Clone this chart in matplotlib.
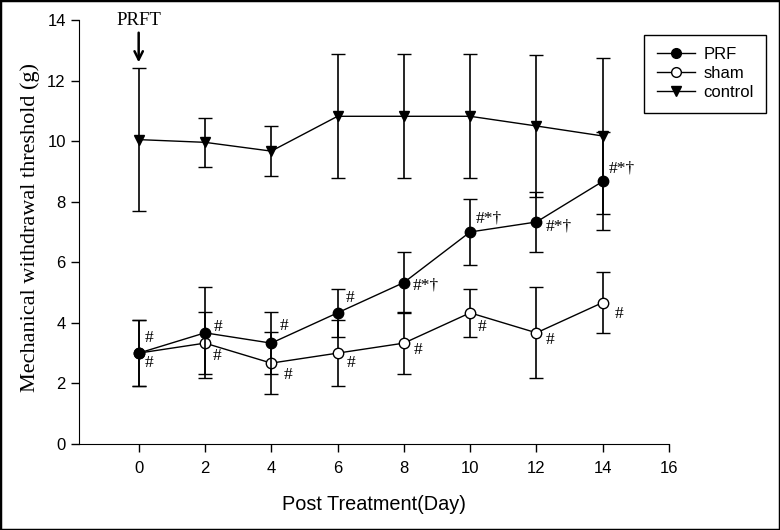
import numpy as np
import matplotlib
matplotlib.use("Agg")
import matplotlib.pyplot as plt
from matplotlib.patches import Rectangle
from matplotlib.lines import Line2D

# days after treatment
days = [0, 2, 4, 6, 8, 10, 12, 14]

# mechanical withdrawal threshold (g), mean and error
prf_mean = [3.0, 3.67, 3.33, 4.33, 5.33, 7.0, 7.33, 8.67]
prf_err = [1.1, 1.5, 1.03, 0.8, 1.0, 1.09, 1.0, 1.62]
sham_mean = [3.0, 3.33, 2.67, 3.0, 3.33, 4.33, 3.67, 4.67]
sham_err = [1.1, 1.03, 1.03, 1.1, 1.02, 0.8, 1.5, 1.02]
control_mean = [10.05, 9.96, 9.67, 10.82, 10.82, 10.82, 10.5, 10.17]
control_err = [2.35, 0.82, 0.82, 2.05, 2.05, 2.05, 2.34, 2.56]

# significance marks
prf_marks = ["#", "#", "#", "#", "#*\u2020", "#*\u2020", "#*\u2020", "#*\u2020"]
sham_marks = ["#"] * 8

SERIF = ["Liberation Serif", "DejaVu Serif"]
SANS = ["Liberation Sans", "DejaVu Sans"]

plt.rcParams["font.family"] = SANS
plt.rcParams["font.size"] = 12

fig = plt.figure(figsize=(7.8, 5.3), dpi=100)
ax = fig.add_axes([0.1013, 0.1623, 0.7564, 0.8])

common = dict(color="black", lw=1.0, capsize=4.8, elinewidth=1.2, capthick=1.2,
              markersize=7.5, markeredgecolor="black", markeredgewidth=1.0)
ax.errorbar(days, control_mean, yerr=control_err, fmt="-v",
            markerfacecolor="black", zorder=3, **common)
ax.errorbar(days, sham_mean, yerr=sham_err, fmt="-o",
            markerfacecolor="white", zorder=4, **common)
ax.errorbar(days, prf_mean, yerr=prf_err, fmt="-o",
            markerfacecolor="black", zorder=5, **common)

# label offsets in pixels (dx, dy, horizontal alignment)
prf_off = [(10, 15, "center"), (13, 6, "center"), (13, 17, "center"),
           (13, 15, "center"), (9, -3, "left"), (6, 13, "left"),
           (9, -5, "left"), (6, 13, "left")]
sham_off = [(10, -10), (12, -13), (17, -12), (14, -10),
            (14, -7), (12, -14), (14, -7), (16, -11)]
px = 0.72
for d, m, lab, (dx, dy, ha) in zip(days, prf_mean, prf_marks, prf_off):
    ax.annotate(lab, (d, m), xytext=(dx * px, dy * px), textcoords="offset points",
                ha=ha, va="center", fontsize=12.5, family=SERIF)
for d, m, lab, (dx, dy) in zip(days, sham_mean, sham_marks, sham_off):
    ax.annotate(lab, (d, m), xytext=(dx * px, dy * px), textcoords="offset points",
                ha="center", va="center", fontsize=12.5, family=SERIF)

# treatment marker
ax.text(0, 13.97, "PRFT", ha="center", va="center", fontsize=13.5,
        family=SERIF, clip_on=False)
ax.annotate("", xy=(0, 12.6), xytext=(0, 13.58),
            arrowprops=dict(arrowstyle="->", lw=1.8, color="black",
                            mutation_scale=15, shrinkA=0, shrinkB=0),
            annotation_clip=False)

ax.set_xlim(-1.8, 16)
ax.set_ylim(0, 14)
ax.set_xticks(range(0, 17, 2))
ax.set_yticks(range(0, 15, 2))
for s in ["top", "right"]:
    ax.spines[s].set_visible(False)
ax.tick_params(direction="out", length=5.5, width=1.0, labelsize=12)
ax.tick_params(axis="x", pad=6.5)
ax.tick_params(axis="y", pad=4)

ax.set_xlabel("Post Treatment(Day)", fontsize=14.3, labelpad=14)
ax.set_ylabel("Mechanical withdrawal threshold (g)", fontsize=16,
              family=SERIF)
ax.yaxis.set_label_coords(-0.066, 0.51)

handles = [
    Line2D([], [], color="black", lw=1.0, marker="o", markersize=7,
           markerfacecolor="black", markeredgecolor="black"),
    Line2D([], [], color="black", lw=1.0, marker="o", markersize=7,
           markerfacecolor="white", markeredgecolor="black"),
    Line2D([], [], color="black", lw=1.0, marker="v", markersize=7,
           markerfacecolor="black", markeredgecolor="black"),
]
leg = ax.legend(handles, ["PRF", "sham", "control"],
                loc="upper left", bbox_to_anchor=(0.958, 0.9646),
                borderaxespad=0, fancybox=False, framealpha=1,
                edgecolor="black", fontsize=12, handlelength=2.3,
                handletextpad=0.5, labelspacing=0.24, borderpad=0.74)
leg.get_frame().set_linewidth(1.0)

fig.patches.append(Rectangle((0, 0), 1, 1, transform=fig.transFigure,
                             fill=False, ec="black", lw=2.5))

fig.savefig("out.png", dpi=100)
